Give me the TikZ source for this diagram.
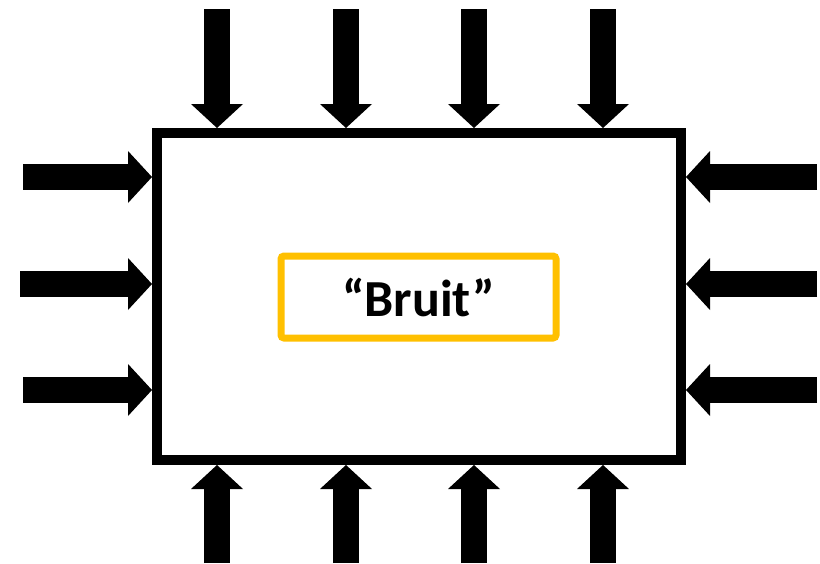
\documentclass[tikz,border=0pt]{standalone}
\usepackage{fontspec}
\setmainfont{Carlito}
\usetikzlibrary{arrows.meta}
\definecolor{jaune}{HTML}{FFC000}

\tikzset{
  cadre/.style={draw=black, line width=10pt, minimum width=524pt, minimum height=327pt, inner sep=0pt},
  etiquette/.style={draw=jaune, line width=7pt, rounded corners=3pt, minimum width=275pt, minimum height=82pt,
    inner sep=0pt, font=\fontsize{52}{60}\selectfont\bfseries},
  fleche/.style={line width=26pt, -{Triangle[width=52pt, length=24pt, line width=0pt]}}
}

\begin{document}
\begin{tikzpicture}[x=1pt, y=-1pt]
    \useasboundingbox (0,0) rectangle (820,563);

    % --- Box ---
    \node[cadre] (cadre) at (419,296.5) {};
    \node[etiquette] (bruit) at (418.5,297) {“Bruit”};

    % --- Arrows from above and below ---
    \foreach \x [count=\i] in {217,346,474,603} {
        \coordinate (h\i) at (\x,9);
        \coordinate (b\i) at (\x,563);
        \draw[fleche] (h\i) -- (cadre.north -| h\i);
        \draw[fleche] (b\i) -- (cadre.south -| b\i);
    }

    % --- Arrows from the sides ---
    \foreach \y/\xg [count=\i] in {177/23,284/20,390/23} {
        \coordinate (g\i) at (\xg,\y);
        \coordinate (d\i) at (817,\y);
        \draw[fleche] (g\i) -- (cadre.west |- g\i);
        \draw[fleche] (d\i) -- (cadre.east |- d\i);
    }

\end{tikzpicture}
\end{document}
